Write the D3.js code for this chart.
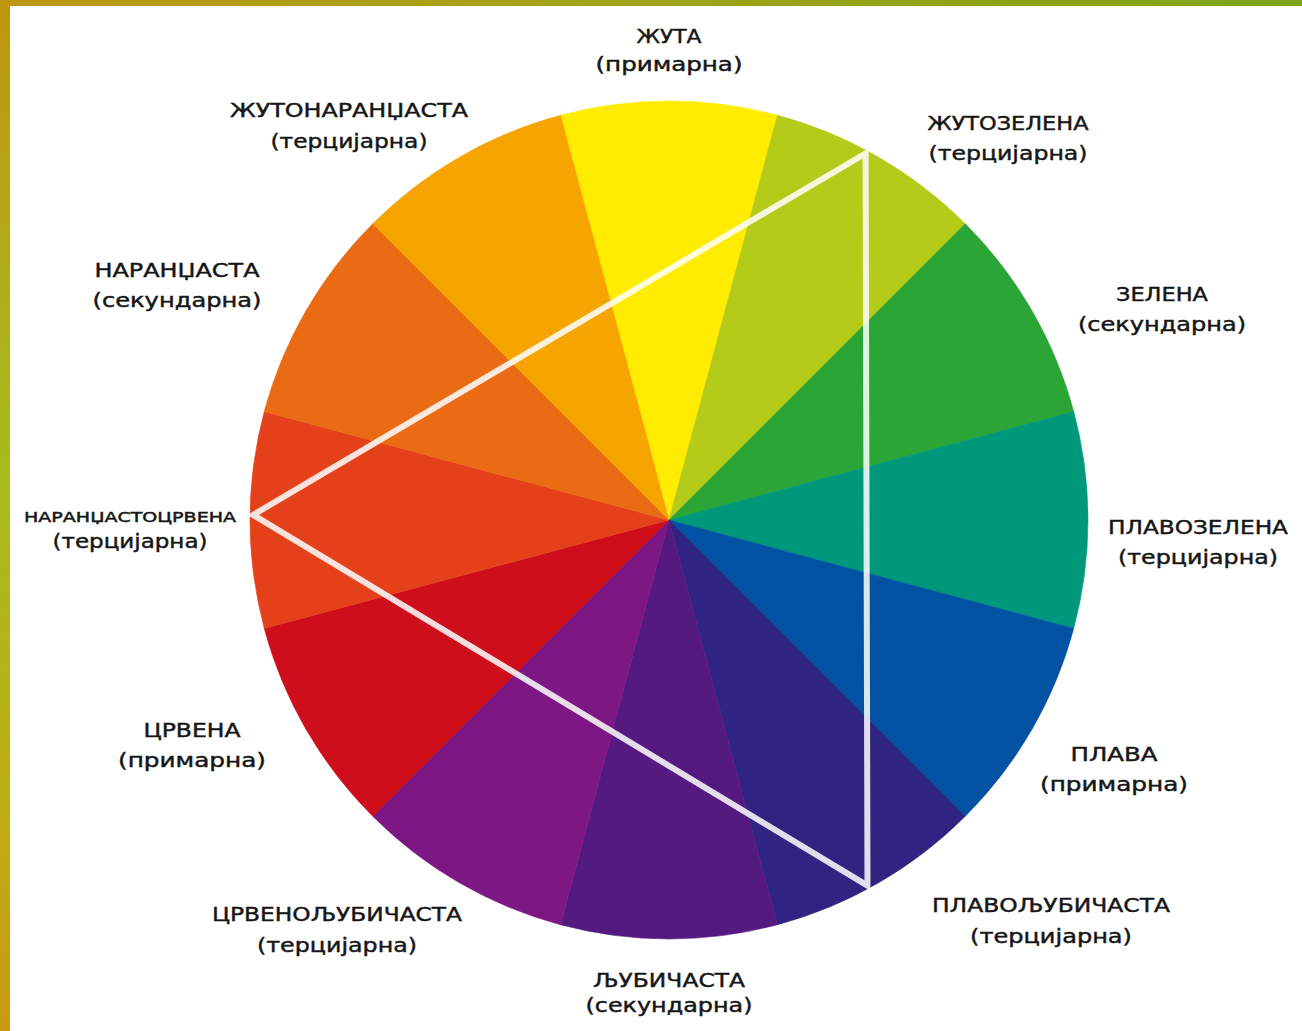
<!DOCTYPE html>
<html>
<head>
<meta charset="utf-8">
<script src="https://cdn.jsdelivr.net/npm/d3@7"></script>
<style>
    body { margin: 0; background: #fff; }
    svg { display: block; }
    text { font-family: "DejaVu Sans", sans-serif; fill: #161616; stroke: #161616; stroke-width: 0.45px; }
</style>
</head>
<body>
<div id="chart"></div>
<script>
// colour names, clockwise from the top (yellow)
var colorNames = ["ЖУТА", "ЖУТОЗЕЛЕНА", "ЗЕЛЕНА", "ПЛАВОЗЕЛЕНА", "ПЛАВА", "ПЛАВОЉУБИЧАСТА",
    "ЉУБИЧАСТА", "ЦРВЕНОЉУБИЧАСТА", "ЦРВЕНА", "НАРАНЏАСТОЦРВЕНА", "НАРАНЏАСТА", "ЖУТОНАРАНЏАСТА"];
var colorTypes = ["(примарна)", "(терцијарна)", "(секундарна)", "(терцијарна)", "(примарна)", "(терцијарна)",
    "(секундарна)", "(терцијарна)", "(примарна)", "(терцијарна)", "(секундарна)", "(терцијарна)"];
// every wedge has the same share of the wheel
var shares = [1, 1, 1, 1, 1, 1, 1, 1, 1, 1, 1, 1];
var wedgeColors = ["#FFEC00", "#B5CB19", "#2AA536", "#00987A", "#0252A3", "#2F2482",
    "#541A80", "#7C1783", "#CE0E1B", "#E4411A", "#EB6B15", "#F5A400"];
// the triangle joins these three colours
var triangleVertices = ["ЖУТОЗЕЛЕНА", "ПЛАВОЉУБИЧАСТА", "НАРАНЏАСТОЦРВЕНА"];

// layout only (label anchors, widths, nudges)
var labelLayout = [
    {x: 669, y: 43, w1: 65, w2: 147, gap: 28},
    {x: 1008, y: 130, w1: 161, w2: 159, gap: 30},
    {x: 1162, y: 301, w1: 92, w2: 168, gap: 30},
    {x: 1198, y: 534, w1: 180, w2: 160, gap: 30},
    {x: 1114, y: 761, w1: 87, w2: 148, gap: 30},
    {x: 1051, y: 912, w1: 238, w2: 162, gap: 31},
    {x: 669, y: 987, w1: 152, w2: 167, gap: 25},
    {x: 337, y: 921, w1: 250, w2: 160, gap: 31},
    {x: 192, y: 737, w1: 97, w2: 148, gap: 30},
    {x: 130, y: 522, w1: 212, w2: 155, gap: 26, size1: 14},
    {x: 177, y: 277, w1: 165, w2: 169, gap: 30},
    {x: 349, y: 117, w1: 238, w2: 157, gap: 31}
];
var vertexNudge = [-1.8, 1.5, 0.7];

var width = 1302,
    height = 1031;
var cx = 669, cy = 520, radius = 419;

var svg = d3.select('#chart').append('svg')
        .attr('width', width)
        .attr('height', height);

var defs = svg.append('defs');
var topGrad = defs.append('linearGradient').attr('id', 'topEdge')
        .attr('x1', '0').attr('y1', '0').attr('x2', '1').attr('y2', '0');
topGrad.append('stop').attr('offset', '0%').attr('stop-color', '#BE960F');
topGrad.append('stop').attr('offset', '45%').attr('stop-color', '#A3A414');
topGrad.append('stop').attr('offset', '100%').attr('stop-color', '#7EA31B');
var leftGrad = defs.append('linearGradient').attr('id', 'leftEdge')
        .attr('x1', '0').attr('y1', '0').attr('x2', '0').attr('y2', '1');
leftGrad.append('stop').attr('offset', '0%').attr('stop-color', '#C0950F');
leftGrad.append('stop').attr('offset', '45%').attr('stop-color', '#A7BC1D');
leftGrad.append('stop').attr('offset', '75%').attr('stop-color', '#BDB016');
leftGrad.append('stop').attr('offset', '100%').attr('stop-color', '#C9990F');

svg.append('rect').attr('width', width).attr('height', height).style('fill', '#fff');
svg.append('rect').attr('width', width).attr('height', 6).style('fill', 'url(#topEdge)');
svg.append('rect').attr('width', 10).attr('height', height).style('fill', 'url(#leftEdge)');

// wheel
var pie = d3.pie().sort(null)
        .startAngle(-Math.PI / 12)
        .endAngle(2 * Math.PI - Math.PI / 12);
var arcs = pie(shares);
var arc = d3.arc().innerRadius(0).outerRadius(radius);

var wheel = svg.append('g').attr('transform', 'translate(' + cx + ',' + cy + ')');
wheel.selectAll('path')
        .data(arcs)
        .enter()
        .append('path')
        .attr('d', arc)
        .style('fill', function (d, i) {
            return wedgeColors[i];
        })
        .style('stroke', function (d, i) {
            return wedgeColors[i];
        })
        .style('stroke-width', 0.6);

// triangle of the three tertiary colours
var trianglePoints = triangleVertices.map(function (name, k) {
    var a = arcs[colorNames.indexOf(name)];
    var ang = (a.startAngle + a.endAngle) / 2 + vertexNudge[k] * Math.PI / 180;
    return d3.pointRadial(ang, radius - 3);
});
wheel.append('path')
        .attr('d', d3.line().curve(d3.curveLinearClosed)(trianglePoints))
        .style('fill', 'none')
        .style('stroke', '#fff')
        .style('stroke-opacity', 0.85)
        .style('stroke-width', 6);

// labels
var labels = svg.append('g').selectAll('g')
        .data(colorNames)
        .enter()
        .append('g');
labels.append('text')
        .attr('x', function (d, i) { return labelLayout[i].x; })
        .attr('y', function (d, i) { return labelLayout[i].y; })
        .attr('text-anchor', 'middle')
        .attr('font-size', function (d, i) { return labelLayout[i].size1 || 20; })
        .attr('textLength', function (d, i) { return labelLayout[i].w1; })
        .attr('lengthAdjust', 'spacingAndGlyphs')
        .text(function (d) { return d; });
labels.append('text')
        .attr('x', function (d, i) { return labelLayout[i].x; })
        .attr('y', function (d, i) { return labelLayout[i].y + labelLayout[i].gap; })
        .attr('text-anchor', 'middle')
        .attr('font-size', 20)
        .attr('textLength', function (d, i) { return labelLayout[i].w2; })
        .attr('lengthAdjust', 'spacingAndGlyphs')
        .text(function (d, i) { return colorTypes[i]; });
</script>
</body>
</html>
